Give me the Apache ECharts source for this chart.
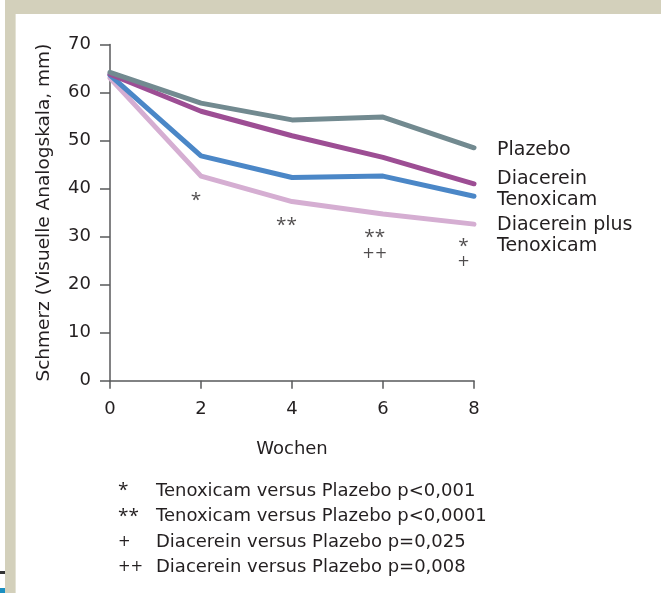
<!DOCTYPE html>
<html><head><meta charset="utf-8">
<script src="https://cdn.jsdelivr.net/npm/echarts@6/dist/echarts.min.js"></script>
<style>html,body{margin:0;padding:0;background:#fff}#c{width:661px;height:593px}</style>
</head><body><div id="c"></div>
<script>
const weeks = [0, 2, 4, 6, 8];
const plazebo = [64.2, 57.8, 54.3, 54.9, 48.5];
const diacerein = [63.8, 56.1, 51.0, 46.5, 41.0];
const tenoxicam = [63.6, 46.8, 42.3, 42.6, 38.4];
const kombination = [63.0, 42.6, 37.3, 34.7, 32.6];
const seriesNames = ['Plazebo', 'Diacerein', 'Tenoxicam', 'Diacerein plus\nTenoxicam'];
const xAxisTitle = 'Wochen';
const yAxisTitle = 'Schmerz (Visuelle Analogskala, mm)';
// significance markers: [week, value, symbol]
const sigMarks = [[1.89, 37.6, '*'], [3.88, 32.3, '**'], [5.82, 29.9, '**'], [5.82, 26.4, '++'], [7.77, 27.9, '*'], [7.77, 24.7, '+']];
const footnoteSymbols = ['*', '**', '+', '++'];
const footnoteTexts = ['Tenoxicam versus Plazebo p<0,001', 'Tenoxicam versus Plazebo p<0,0001', 'Diacerein versus Plazebo p=0,025', 'Diacerein versus Plazebo p=0,008'];

const FONT = '"DejaVu Sans", sans-serif';
const AFONT = '"Open Sans", sans-serif';
const PFONT = '"DejaVu Sans", sans-serif';
const TXT = '#231f20';
const AX = '#58595b';
const colors = ['#728a90', '#9d4e94', '#4b87c7', '#d5aed2'];
const labelOffsets = [[0, 2], [0, -5], [0, 4], [0, 11]];
const allValues = [plazebo, diacerein, tenoxicam, kombination];
const isStar = s => s.indexOf('*') >= 0;

const chart = echarts.init(document.getElementById('c'), null, {renderer: 'canvas'});

const series = allValues.map((vals, i) => ({
  name: seriesNames[i],
  type: 'line',
  data: weeks.map((w, j) => [w, vals[j]]),
  showSymbol: false,
  symbol: 'none',
  z: 2 + (3 - i),
  lineStyle: {color: colors[i], width: 5, cap: 'round', join: 'round'},
  itemStyle: {color: colors[i]},
  endLabel: {
    show: true, formatter: seriesNames[i], distance: 23, offset: labelOffsets[i],
    fontFamily: FONT, fontSize: 19, color: TXT, lineHeight: 21
  },
  silent: true
}));

series.push({
  type: 'scatter',
  data: sigMarks,
  symbolSize: 0,
  silent: true,
  label: {
    show: true, position: 'inside',
    formatter: p => (isStar(p.data[2]) ? '{a|' : '{p|') + p.data[2] + '}',
    color: TXT,
    rich: {
      a: {fontFamily: AFONT, fontSize: 19, color: TXT},
      p: {fontFamily: PFONT, fontSize: 15, color: TXT}
    }
  }
});

const graphics = [
  {type: 'rect', shape: {x: 5, y: 0, width: 656, height: 14}, style: {fill: '#d3d0bb'}, silent: true},
  {type: 'rect', shape: {x: 5, y: 0, width: 11, height: 593}, style: {fill: '#d3d0bb'}, silent: true},
  {type: 'rect', shape: {x: 15, y: 14, width: 1, height: 579}, style: {fill: '#e4e2d4'}, silent: true},
  {type: 'rect', shape: {x: 0, y: 571, width: 5, height: 3}, style: {fill: '#333'}, silent: true},
  {type: 'rect', shape: {x: 0, y: 588, width: 5, height: 5}, style: {fill: '#1b8fc1'}, silent: true}
];
footnoteSymbols.forEach((s, i) => {
  const y = 491 + i * 25.5;
  const f = isStar(s) ? '19px ' + AFONT : '15px ' + PFONT;
  graphics.push({type: 'text', x: 118, y: y, style: {text: s, font: f, fill: TXT, verticalAlign: 'middle', textVerticalAlign: 'middle'}, silent: true});
  graphics.push({type: 'text', x: 156, y: y, style: {text: footnoteTexts[i], font: '18px ' + FONT, fill: TXT, verticalAlign: 'middle', textVerticalAlign: 'middle'}, silent: true});
});

chart.setOption({
  backgroundColor: '#ffffff',
  animation: false,
  grid: {left: 110, right: 187, top: 44.5, bottom: 212.3, containLabel: false},
  xAxis: {
    type: 'value', min: 0, max: 8, interval: 2,
    name: xAxisTitle, nameLocation: 'middle', nameGap: 60,
    nameTextStyle: {fontFamily: FONT, fontSize: 18, color: TXT},
    axisLine: {show: true, lineStyle: {color: AX, width: 1.5}},
    axisTick: {show: true, length: 8, lineStyle: {color: AX, width: 1.5}},
    axisLabel: {fontFamily: FONT, fontSize: 18, color: TXT, margin: 20},
    splitLine: {show: false}
  },
  yAxis: {
    type: 'value', min: 0, max: 70, interval: 10,
    name: yAxisTitle, nameLocation: 'middle', nameGap: 56, nameRotate: 90,
    nameTextStyle: {fontFamily: FONT, fontSize: 18.5, color: TXT},
    axisLine: {show: true, lineStyle: {color: AX, width: 1.5}},
    axisTick: {show: true, length: 10, lineStyle: {color: AX, width: 1.5}},
    axisLabel: {fontFamily: FONT, fontSize: 18, color: TXT, margin: 19},
    splitLine: {show: false}
  },
  series: series,
  graphic: graphics
});
</script>
</body></html>
